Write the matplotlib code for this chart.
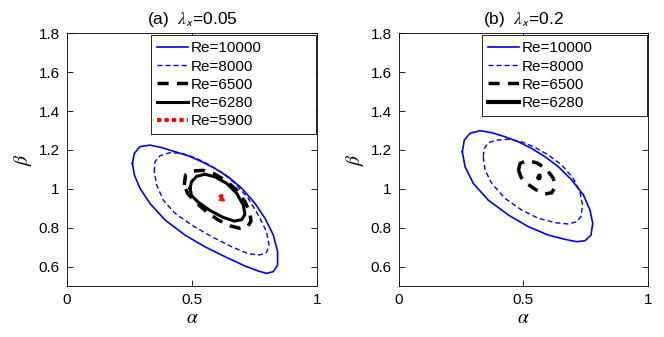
"""Neutral curves in the (alpha, beta) plane for two lambda_x values."""
import numpy as np
import matplotlib
matplotlib.use('Agg')
import matplotlib.pyplot as plt
from matplotlib.ticker import FuncFormatter

plt.rcParams['font.family'] = ['Liberation Sans', 'DejaVu Sans']
plt.rcParams['mathtext.fontset'] = 'stix'

# ---- panel (a): lambda_x = 0.05 ----
a_10000_a = [0.262, 0.270, 0.292, 0.332, 0.379, 0.432, 0.485, 0.538, 0.591, 0.644,
             0.698, 0.751, 0.791, 0.824, 0.841, 0.841, 0.824, 0.797, 0.764, 0.711,
             0.631, 0.551, 0.472, 0.392, 0.332, 0.292, 0.270]
b_10000_a = [1.131, 1.183, 1.217, 1.225, 1.212, 1.191, 1.170, 1.140, 1.105, 1.062,
             1.003, 0.925, 0.848, 0.762, 0.677, 0.608, 0.574, 0.565, 0.577, 0.603,
             0.651, 0.702, 0.762, 0.840, 0.925, 1.003, 1.071]

a_8000_a = [0.349, 0.352, 0.372, 0.412, 0.459, 0.512, 0.565, 0.618, 0.671, 0.724,
            0.764, 0.797, 0.807, 0.797, 0.771, 0.724, 0.658, 0.578, 0.498, 0.432,
            0.385, 0.359]
b_8000_a = [1.088, 1.140, 1.170, 1.186, 1.183, 1.160, 1.126, 1.085, 1.028, 0.951,
            0.865, 0.779, 0.711, 0.673, 0.660, 0.666, 0.702, 0.754, 0.814, 0.874,
            0.942, 1.020]

a_6500_a = [0.469, 0.474, 0.505, 0.545, 0.584, 0.631, 0.678, 0.711, 0.731, 0.735,
            0.722, 0.691, 0.651, 0.604, 0.558, 0.512, 0.482]
b_6500_a = [1.020, 1.071, 1.092, 1.095, 1.080, 1.045, 0.994, 0.934, 0.874, 0.834,
            0.805, 0.797, 0.810, 0.840, 0.882, 0.934, 0.977]

a_6280_a = [0.492, 0.498, 0.518, 0.551, 0.591, 0.638, 0.678, 0.704, 0.711, 0.698,
            0.668, 0.624, 0.571, 0.525, 0.498]
b_6280_a = [1.003, 1.037, 1.064, 1.075, 1.062, 1.028, 0.977, 0.917, 0.869, 0.841,
            0.834, 0.853, 0.889, 0.931, 0.965]

a_5900_a = [0.609, 0.616, 0.626, 0.630, 0.624, 0.612]
b_5900_a = [0.955, 0.962, 0.960, 0.952, 0.946, 0.948]

# ---- panel (b): lambda_x = 0.2 ----
a_10000_b = [0.255, 0.263, 0.286, 0.326, 0.373, 0.426, 0.480, 0.533, 0.587, 0.640,
             0.694, 0.741, 0.767, 0.778, 0.771, 0.747, 0.714, 0.667, 0.600, 0.520,
             0.440, 0.359, 0.299, 0.266]
b_10000_b = [1.191, 1.251, 1.286, 1.299, 1.289, 1.268, 1.242, 1.208, 1.165, 1.114,
             1.045, 0.968, 0.891, 0.823, 0.762, 0.733, 0.728, 0.740, 0.762, 0.805,
             0.865, 0.942, 1.028, 1.114]

a_8000_b = [0.339, 0.343, 0.359, 0.393, 0.440, 0.493, 0.547, 0.600, 0.654, 0.700,
            0.727, 0.737, 0.731, 0.714, 0.680, 0.627, 0.560, 0.493, 0.426, 0.373,
            0.346]
b_8000_b = [1.165, 1.208, 1.237, 1.251, 1.255, 1.242, 1.213, 1.174, 1.123, 1.054,
            0.985, 0.917, 0.857, 0.831, 0.819, 0.826, 0.848, 0.891, 0.951, 1.028,
            1.097]

a_6500_b = [0.480, 0.487, 0.513, 0.554, 0.594, 0.620, 0.627, 0.614, 0.584, 0.547,
            0.513, 0.491]
b_6500_b = [1.097, 1.131, 1.145, 1.134, 1.100, 1.054, 1.011, 0.980, 0.973, 0.998,
            1.028, 1.059]

a_6280_b = [0.562, 0.565, 0.565, 0.562]
b_6280_b = [1.056, 1.058, 1.068, 1.066]

x_ticks = [0, 0.5, 1]
y_ticks = [0.6, 0.8, 1.0, 1.2, 1.4, 1.6, 1.8]

styles = {
    'Re=10000': dict(color='#0000ff', lw=1.2, ls='-'),
    'Re=8000': dict(color='#0000ff', lw=1.0, ls=(0, (3.6, 2.2))),
    'Re=6500': dict(color='k', lw=2.5, ls=(0, (3.2, 2.4))),
    'Re=6280': dict(color='k', lw=2.3, ls='-'),
    'Re=5900': dict(color='#ff0000', lw=3.0, ls=(0, (1.0, 0.8))),
}


def closed(xs, ys):
    return np.append(xs, xs[0]), np.append(ys, ys[0])


def setup_axes(ax, title):
    ax.set_xlim(0, 1)
    ax.set_ylim(0.5, 1.8)
    ax.set_xticks(x_ticks)
    ax.set_yticks(y_ticks)
    fmt = FuncFormatter(lambda v, p: '%g' % v)
    ax.xaxis.set_major_formatter(fmt)
    ax.yaxis.set_major_formatter(fmt)
    ax.tick_params(direction='in', top=True, right=True, length=4,
                   width=0.6, labelsize=11, pad=5)
    for s in ax.spines.values():
        s.set_linewidth(0.6)
    ax.set_xlabel(r'$\alpha$', fontsize=14, labelpad=2)
    ax.set_ylabel(r'$\beta$', fontsize=14, labelpad=3)
    ax.set_title(title, fontsize=12.5, pad=7)


fig = plt.figure(figsize=(6.64, 3.37), dpi=100)
ax1 = fig.add_axes([0.1004, 0.1513, 0.3777, 0.7497])
ax2 = fig.add_axes([0.6005, 0.1513, 0.3755, 0.7497])

curves_a = [('Re=10000', a_10000_a, b_10000_a), ('Re=8000', a_8000_a, b_8000_a),
            ('Re=6500', a_6500_a, b_6500_a), ('Re=6280', a_6280_a, b_6280_a),
            ('Re=5900', a_5900_a, b_5900_a)]
curves_b = [('Re=10000', a_10000_b, b_10000_b), ('Re=8000', a_8000_b, b_8000_b),
            ('Re=6500', a_6500_b, b_6500_b), ('Re=6280', a_6280_b, b_6280_b)]

panels = [(ax1, curves_a, r'(a)  $\lambda_{\mathsf{x}}$=0.05', 0.336, 0.993, 2.2),
          (ax2, curves_b, r'(b)  $\lambda_{\mathsf{x}}$=0.2', 0.335, 0.995, 3.0)]

for ax, curves, title, lx0, lx1, lw_6280 in panels:
    for label, xs, ys in curves:
        cx, cy = closed(xs, ys)
        st = dict(styles[label])
        if label == 'Re=6280':
            st['lw'] = lw_6280
        ax.plot(cx, cy, label=label, **st)
    setup_axes(ax, title)
    leg = ax.legend(loc='upper left', bbox_to_anchor=(lx0, 0, lx1 - lx0, 0.993),
                    mode='expand', borderaxespad=0, fontsize=11, handlelength=2.0,
                    handletextpad=0.2, labelspacing=0.28, borderpad=0.4,
                    fancybox=False, framealpha=1)
    leg.get_frame().set_edgecolor('k')
    leg.get_frame().set_linewidth(0.6)

fig.savefig('out.png', dpi=100)
